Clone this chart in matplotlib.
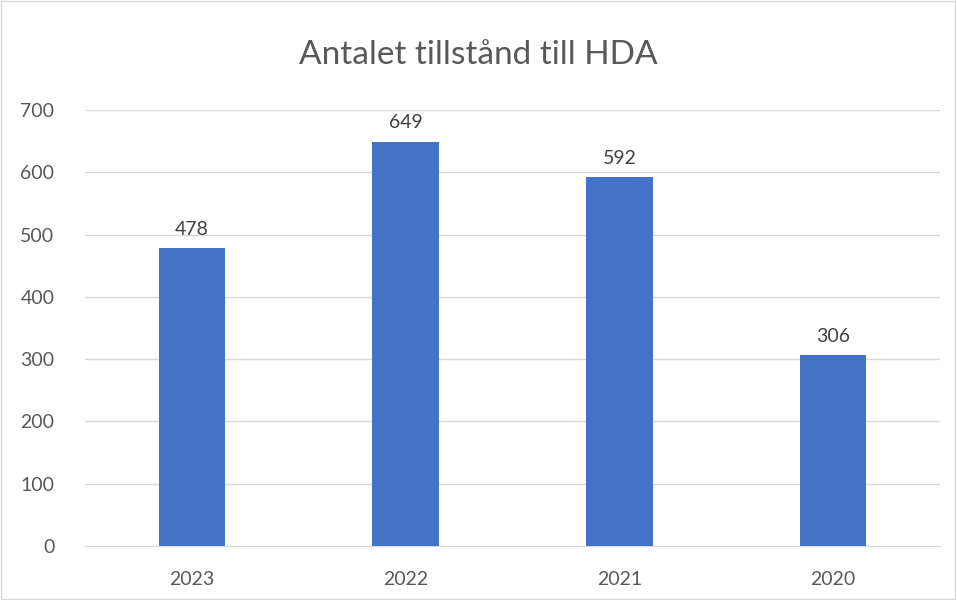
import matplotlib.pyplot as plt
from matplotlib.patches import Rectangle

years = ['2023', '2022', '2021', '2020']
permits = [478, 649, 592, 306]

plt.rcParams['font.family'] = ['Lato', 'DejaVu Sans']

fig = plt.figure(figsize=(9.57, 6), dpi=100)
ax = fig.add_axes([85 / 957, 1 - 546 / 600, (940 - 85) / 957, (546 - 110) / 600])

x = range(len(years))
bars = ax.bar(x, permits, width=0.31, color='#4472C4', zorder=3)

for xi, v in zip(x, permits):
    ax.text(xi, v + 17, str(v), ha='center', va='bottom', fontsize=14, color='#404040')

ax.set_xlim(-0.5, len(years) - 0.5)
ax.set_ylim(0, 700)
ax.set_yticks(range(0, 701, 100))
ax.set_xticks(list(x))
ax.set_xticklabels(years)
ax.tick_params(axis='both', length=0, labelsize=14, labelcolor='#595959')
ax.tick_params(axis='y', pad=22)
ax.tick_params(axis='x', pad=18)
ax.grid(axis='y', color='#d9d9d9', linewidth=1, zorder=0)
for s in ['top', 'right', 'left']:
    ax.spines[s].set_visible(False)
ax.spines['bottom'].set_color('#d9d9d9')

fig.text(0.5, 1 - 55 / 600, 'Antalet tillstånd till HDA', ha='center', va='center',
         fontsize=24, color='#595959')

# chart area border
fig.patches.append(Rectangle((0.001, 0.001), 0.997, 0.997, transform=fig.transFigure,
                             fill=False, edgecolor='#d9d9d9', linewidth=1))

fig.savefig('out.png', dpi=100)
